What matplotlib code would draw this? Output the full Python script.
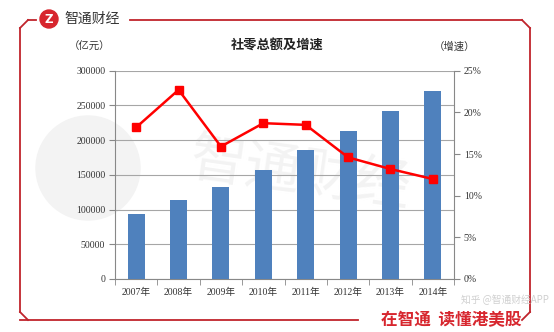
import matplotlib
matplotlib.use("Agg")
import matplotlib.pyplot as plt
from matplotlib.patches import Circle
import numpy as np

plt.rcParams['font.family'] = ['Noto Sans CJK SC', 'DejaVu Sans']

years = ['2007年', '2008年', '2009年', '2010年', '2011年', '2012年', '2013年', '2014年']
totals = [92900, 114400, 132000, 157500, 186200, 213400, 242200, 271300]
growth = [18.2, 22.7, 15.9, 18.7, 18.5, 14.6, 13.2, 12.0]
left_ticks = [0, 50000, 100000, 150000, 200000, 250000, 300000]
right_ticks = [0, 5, 10, 15, 20, 25]

W, H = 554, 332
fig = plt.figure(figsize=(W / 100, H / 100), dpi=100)
fig.patch.set_facecolor('white')

def fx(x):
    return x / W

def fy(y):
    return 1 - y / H

red = '#C0242C'
frame = fig.add_axes([0, 0, 1, 1])
frame.set_xlim(0, W)
frame.set_ylim(H, 0)
frame.axis('off')
frame.plot([130, 522], [20, 20], color=red, lw=1.3)
frame.plot([530, 530], [28, 312], color=red, lw=1.3)
frame.plot([20, 20], [28, 312], color=red, lw=1.3)
frame.plot([20, 358], [320, 320], color=red, lw=1.3)
frame.plot([522, 530], [320, 312], color=red, lw=1.3)
frame.plot([522, 530], [20, 28], color=red, lw=1.3)
frame.plot([20, 28], [28, 20], color=red, lw=1.3)
frame.plot([20, 28], [312, 320], color=red, lw=1.3)
frame.plot([28, 36], [20, 20], color=red, lw=1.3)
frame.add_patch(Circle((49, 19), 9, color='#D7262E'))
frame.text(49, 19.5, 'Z', color='white', fontsize=8.5, fontweight='bold', ha='center', va='center',
           family=['DejaVu Sans'])
frame.text(64, 19, '智通财经', fontsize=10, color='#333333', ha='left', va='center')
frame.text(451, 320, '在智通  读懂港美股', fontsize=12, color='#D7262E', fontweight='bold',
           ha='center', va='center')
# watermarks
frame.add_patch(Circle((88, 168), 52, color='#F3F3F3', zorder=0))
frame.text(300, 175, '智通财经', fontsize=40, color='#F3F3F3', ha='center', va='center',
           rotation=-8, zorder=0)
frame.text(505, 300, '知乎 @智通财经APP', fontsize=7, color='#D0D0D0', ha='center', va='center')

frame.text(277, 45, '社零总额及增速', fontsize=9.5, fontweight='bold', color='#222222', ha='center', va='center')
frame.text(90, 47, '（亿元）', fontsize=7.5, color='#333333', ha='center', va='center')
frame.text(455, 47, '（增速）', fontsize=7.5, color='#333333', ha='center', va='center')

ax = fig.add_axes([fx(115), fy(279), fx(454) - fx(115), fy(70.7) - fy(279)])
ax.patch.set_alpha(0)
x = np.arange(len(years))
ax.bar(x, totals, width=0.4, color='#4F81BD', zorder=3)
ax.set_ylim(0, 300000)
ax.set_xlim(-0.5, len(years) - 0.5)
ax.set_yticks(left_ticks)
ax.set_yticklabels([str(v) for v in left_ticks], family=['Liberation Serif'], fontsize=7, color='#333333')
ax.yaxis.grid(True, color='#A6A6A6', lw=0.8, zorder=0)
ax.set_xticks(x)
ax.set_xticklabels(years, family=['Liberation Serif', 'Noto Sans CJK SC'], fontsize=7, color='#333333')
ax.set_xticks(np.arange(-0.5, len(years)), minor=True)
ax.tick_params(axis='x', which='major', length=0, pad=6)
ax.tick_params(axis='x', which='minor', length=4, color='#888888')
ax.tick_params(axis='y', length=4, color='#888888', pad=3)
for s in ['top', 'right']:
    ax.spines[s].set_visible(False)
ax.spines['left'].set_color('#888888')
ax.spines['bottom'].set_color('#888888')

ax2 = ax.twinx()
ax2.plot(x, growth, color='#FF0000', lw=1.8, marker='s', markersize=5.5, zorder=4)
ax2.set_ylim(0, 25)
ax2.set_yticks(right_ticks)
ax2.set_yticklabels([f'{v}%' for v in right_ticks], family=['Liberation Serif'], fontsize=7, color='#333333')
ax2.tick_params(axis='y', length=4, color='#888888', pad=3)
for s in ['top', 'left', 'bottom']:
    ax2.spines[s].set_visible(False)
ax2.spines['right'].set_color('#888888')

fig.savefig('out.png', dpi=100)
